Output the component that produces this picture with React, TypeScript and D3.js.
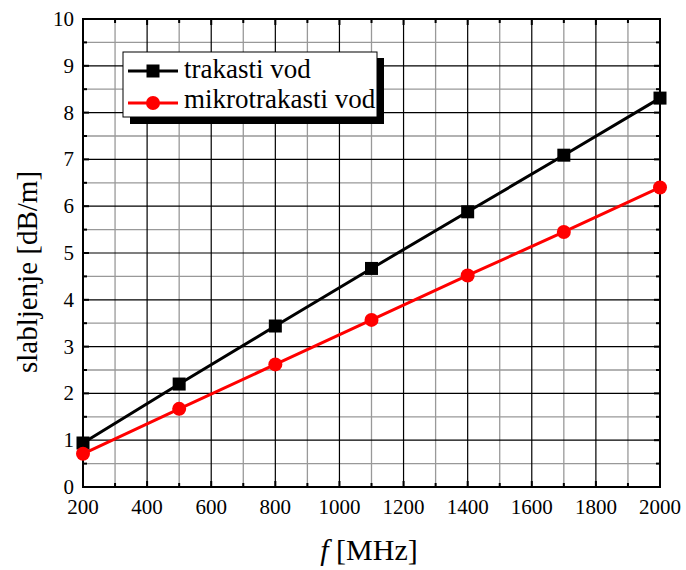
import React from "react";
import * as d3 from "d3";

const freqs = [200, 500, 800, 1100, 1400, 1700, 2000];
const trakasti = [0.94, 2.2, 3.44, 4.67, 5.88, 7.09, 8.31];
const mikrotrakasti = [0.71, 1.67, 2.62, 3.57, 4.52, 5.45, 6.4];
const xTicks = [200, 400, 600, 800, 1000, 1200, 1400, 1600, 1800, 2000];
const yTicks = [0, 1, 2, 3, 4, 5, 6, 7, 8, 9, 10];
const seriesNames = ["trakasti vod", "mikrotrakasti vod"];

const W = 686, H = 570;
const L = 83, R = 660, T = 19, B = 487;
const FONT = "'Liberation Serif', 'Times New Roman', serif";

export default function App() {
  const x = d3.scaleLinear().domain([200, 2000]).range([L, R]);
  const y = d3.scaleLinear().domain([0, 10]).range([B, T]);
  const xMinor = d3.range(300, 2000, 200);
  const yMinor = d3.range(0.5, 10, 1);
  const line = d3.line<[number, number]>().x(d => x(d[0])).y(d => y(d[1]));
  const blackPts: [number, number][] = freqs.map((f, i) => [f, trakasti[i]]);
  const redPts: [number, number][] = freqs.map((f, i) => [f, mikrotrakasti[i]]);

  return (
    <svg width={W} height={H} style={{ position: "absolute", left: 0, top: 0, background: "#fff" }} fontFamily={FONT}>
      <rect x={0} y={0} width={W} height={H} fill="#fff" />
      {/* minor grid */}
      {xMinor.map(v => <line key={"xm" + v} x1={x(v)} x2={x(v)} y1={T} y2={B} stroke="#999" strokeWidth={1.3} />)}
      {yMinor.map(v => <line key={"ym" + v} x1={L} x2={R} y1={y(v)} y2={y(v)} stroke="#999" strokeWidth={1.3} />)}
      {/* major grid */}
      {xTicks.map(v => <line key={"xM" + v} x1={x(v)} x2={x(v)} y1={T} y2={B} stroke="#000" strokeWidth={1.2} />)}
      {yTicks.map(v => <line key={"yM" + v} x1={L} x2={R} y1={y(v)} y2={y(v)} stroke="#000" strokeWidth={1.2} />)}
      {/* ticks */}
      {xTicks.map(v => <g key={"xt" + v}>
        <line x1={x(v)} x2={x(v)} y1={B} y2={B - 6} stroke="#000" strokeWidth={2} />
        <line x1={x(v)} x2={x(v)} y1={T} y2={T + 6} stroke="#000" strokeWidth={2} />
      </g>)}
      {xMinor.map(v => <g key={"xmt" + v}>
        <line x1={x(v)} x2={x(v)} y1={B} y2={B - 4} stroke="#000" strokeWidth={2} />
        <line x1={x(v)} x2={x(v)} y1={T} y2={T + 4} stroke="#000" strokeWidth={2} />
      </g>)}
      {yTicks.map(v => <g key={"yt" + v}>
        <line x1={L} x2={L + 6} y1={y(v)} y2={y(v)} stroke="#000" strokeWidth={2} />
        <line x1={R} x2={R - 6} y1={y(v)} y2={y(v)} stroke="#000" strokeWidth={2} />
      </g>)}
      {yMinor.map(v => <g key={"ymt" + v}>
        <line x1={L} x2={L + 4} y1={y(v)} y2={y(v)} stroke="#000" strokeWidth={2} />
        <line x1={R} x2={R - 4} y1={y(v)} y2={y(v)} stroke="#000" strokeWidth={2} />
      </g>)}
      {/* frame */}
      <rect x={L} y={T} width={R - L} height={B - T} fill="none" stroke="#000" strokeWidth={2} />
      {/* tick labels */}
      {xTicks.map(v => <text key={"xl" + v} x={x(v)} y={B + 27} textAnchor="middle" fontSize={21}>{v}</text>)}
      {yTicks.map(v => <text key={"yl" + v} x={L - 9} y={y(v) + 7} textAnchor="end" fontSize={21}>{v}</text>)}
      {/* axis titles */}
      <text x={369} y={560} textAnchor="middle" fontSize={30}><tspan fontStyle="italic">f</tspan> [MHz]</text>
      <text transform={`translate(37,272) rotate(-90)`} textAnchor="middle" fontSize={29}>slabljenje [dB/m]</text>
      {/* series */}
      <path d={line(blackPts) || ""} fill="none" stroke="#000" strokeWidth={3} />
      <path d={line(redPts) || ""} fill="none" stroke="#ff0000" strokeWidth={3} />
      {blackPts.map((p, i) => <rect key={"bp" + i} x={x(p[0]) - 6.5} y={y(p[1]) - 6.5} width={13} height={13} fill="#000" />)}
      {redPts.map((p, i) => <circle key={"rp" + i} cx={x(p[0])} cy={y(p[1])} r={7} fill="#ff0000" />)}
      {/* legend */}
      <rect x={130} y={58} width={254} height={66} fill="#000" />
      <rect x={123} y={52} width={254} height={65} fill="#fff" stroke="#000" strokeWidth={1} />
      <line x1={128} x2={178} y1={71} y2={71} stroke="#000" strokeWidth={3} />
      <rect x={153 - 6.5} y={71 - 6.5} width={13} height={13} fill="#000" />
      <text x={184} y={78} fontSize={27}>{seriesNames[0]}</text>
      <line x1={128} x2={178} y1={103} y2={103} stroke="#ff0000" strokeWidth={3} />
      <circle cx={153} cy={103} r={7} fill="#ff0000" />
      <text x={184} y={108} fontSize={27}>{seriesNames[1]}</text>
    </svg>
  );
}
